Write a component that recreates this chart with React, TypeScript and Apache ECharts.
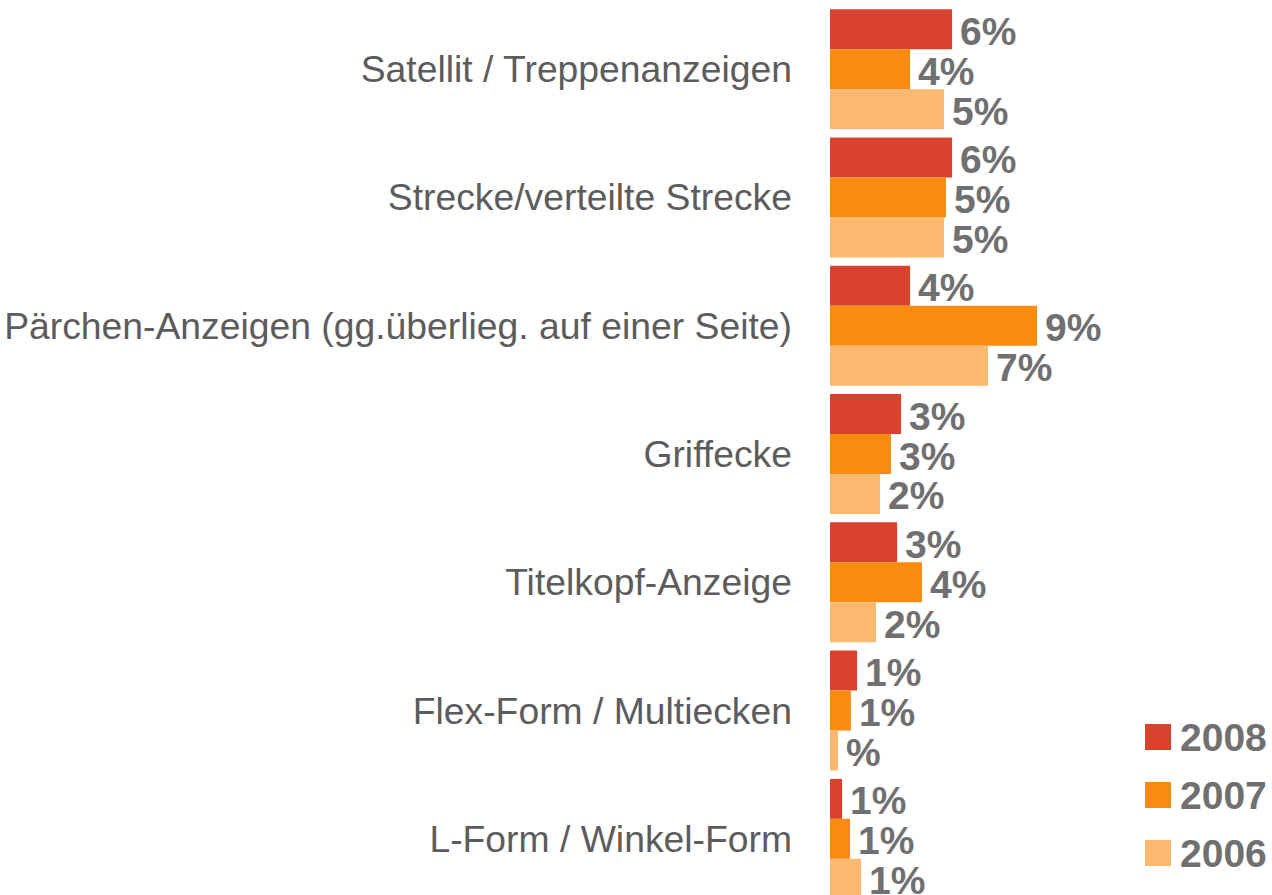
import React, { useEffect, useRef } from "react";
import * as echarts from "echarts";

const categories = [
  "Satellit / Treppenanzeigen",
  "Strecke/verteilte Strecke",
  "Pärchen-Anzeigen (gg.überlieg. auf einer Seite)",
  "Griffecke",
  "Titelkopf-Anzeige",
  "Flex-Form / Multiecken",
  "L-Form / Winkel-Form",
];

const values2008 = [5.55, 5.55, 3.64, 3.23, 3.05, 1.23, 0.55];
const values2007 = [3.64, 5.27, 9.41, 2.77, 4.18, 0.95, 0.91];
const values2006 = [5.18, 5.18, 7.18, 2.27, 2.09, 0.36, 1.41];

const seriesNames = ["2008", "2007", "2006"];
const seriesColors = ["#D9432E", "#F98C10", "#FBB96F"];

const fmt = (v: number) => {
  const r = Math.round(v);
  return r === 0 ? "%" : r + "%";
};

export default function App() {
  const ref = useRef<HTMLDivElement>(null);
  useEffect(() => {
    if (!ref.current) return;
    const chart = echarts.init(ref.current, null, { renderer: "svg" });
    const data = [values2008, values2007, values2006];
    chart.setOption({
      animation: false,
      backgroundColor: "#ffffff",
      textStyle: { fontFamily: "Liberation Sans, Arial, sans-serif" },
      grid: { left: 830, top: 5, width: 220, height: 898, containLabel: false },
      xAxis: {
        type: "value",
        min: 0,
        max: 10,
        show: false,
        splitLine: { show: false },
      },
      yAxis: {
        type: "category",
        data: categories,
        inverse: true,
        axisLine: { show: false },
        axisTick: { show: false },
        splitLine: { show: false },
        axisLabel: {
          margin: 38,
          fontSize: 37.3,
          color: "#5c5c5c",
          fontFamily: "Liberation Sans, Arial, sans-serif",
        },
      },
      legend: {
        orient: "vertical",
        left: 1145,
        top: 717,
        padding: 0,
        icon: "rect",
        itemWidth: 26,
        itemHeight: 26,
        itemGap: 18,
        data: seriesNames,
        textStyle: {
          fontSize: 39,
          fontWeight: "bold",
          color: "#707070",
          lineHeight: 40,
          padding: [0, 0, 0, 4],
          fontFamily: "Liberation Sans, Arial, sans-serif",
        },
      },
      series: seriesNames.map((name, i) => ({
        name,
        type: "bar",
        data: data[i],
        barGap: "0%",
        barCategoryGap: "6.5%",
        itemStyle: { color: seriesColors[i] },
        label: {
          show: true,
          position: "right",
          distance: 8,
          offset: [0, 2],
          fontSize: 39,
          fontWeight: "bold",
          color: "#707070",
          fontFamily: "Liberation Sans, Arial, sans-serif",
          formatter: (p: any) => fmt(p.value),
        },
      })),
    });
    return () => chart.dispose();
  }, []);
  return (
    <div
      style={{
        position: "absolute",
        left: 0,
        top: 0,
        width: 1272,
        height: 895,
        overflow: "hidden",
      }}
    >
      <div ref={ref} style={{ width: 1272, height: 915 }} />
    </div>
  );
}
